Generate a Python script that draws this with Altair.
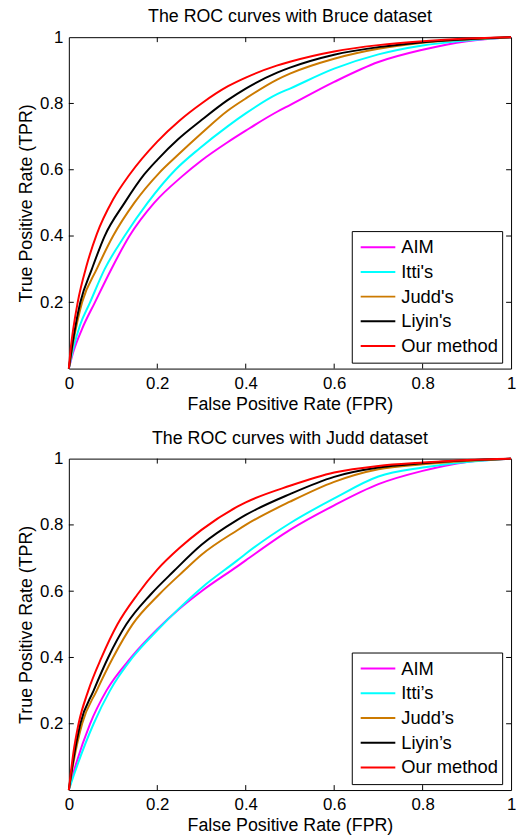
import altair as alt
import pandas as pd

FONT = "Liberation Sans"
COLORS = ["#ff00ff", "#00ffff", "#cc7a00", "#000000", "#ff0000"]
TOP_NAMES = ["AIM", "Itti's", "Judd's", "Liyin's", "Our method"]
BOT_NAMES = ["AIM", "Itti\u2019s", "Judd\u2019s", "Liyin\u2019s", "Our method"]
AXIS_TICKS = [0, 0.2, 0.4, 0.6, 0.8, 1]
Y_LABEL_TICKS = [0.2, 0.4, 0.6, 0.8, 1]
INNER_TICKS = [0.2, 0.4, 0.6, 0.8]

# ---- Bruce dataset ----
BRUCE_AIM_X = [0, 0.01, 0.03, 0.059, 0.096, 0.137, 0.193, 0.256, 0.3, 0.359, 0.4, 0.471, 0.5, 0.6, 0.7, 0.8, 0.9, 1.0]
BRUCE_AIM_Y = [0, 0.05, 0.12, 0.2, 0.3, 0.4, 0.5, 0.58, 0.628, 0.683, 0.718, 0.775, 0.795, 0.865, 0.925, 0.962, 0.988, 1.0]
BRUCE_ITTI_X = [0, 0.01, 0.025, 0.048, 0.081, 0.126, 0.178, 0.241, 0.296, 0.359, 0.4, 0.471, 0.5, 0.6, 0.7, 0.8, 0.9, 1.0]
BRUCE_ITTI_Y = [0, 0.06, 0.13, 0.2, 0.3, 0.4, 0.5, 0.6, 0.665, 0.731, 0.77, 0.828, 0.845, 0.905, 0.948, 0.975, 0.99, 1.0]
BRUCE_JUDD_X = [0, 0.01, 0.03, 0.063, 0.1, 0.148, 0.204, 0.247, 0.3, 0.359, 0.4, 0.471, 0.5, 0.6, 0.7, 0.8, 0.9, 1.0]
BRUCE_JUDD_Y = [0, 0.08, 0.2, 0.3, 0.4, 0.5, 0.59, 0.645, 0.71, 0.778, 0.815, 0.872, 0.89, 0.935, 0.965, 0.983, 0.993, 1.0]
BRUCE_LIYIN_X = [0, 0.01, 0.026, 0.052, 0.081, 0.126, 0.17, 0.2, 0.247, 0.3, 0.359, 0.4, 0.471, 0.5, 0.6, 0.7, 0.8, 0.9, 1.0]
BRUCE_LIYIN_Y = [0, 0.09, 0.2, 0.3, 0.4, 0.5, 0.585, 0.63, 0.692, 0.75, 0.81, 0.845, 0.893, 0.908, 0.947, 0.97, 0.985, 0.994, 1.0]
BRUCE_OURS_X = [0, 0.005, 0.01, 0.02, 0.04, 0.063, 0.1, 0.137, 0.2, 0.25, 0.3, 0.36, 0.4, 0.47, 0.5, 0.6, 0.7, 0.8, 0.9, 1.0]
BRUCE_OURS_Y = [0, 0.07, 0.12, 0.20, 0.31, 0.405, 0.51, 0.585, 0.685, 0.748, 0.80, 0.852, 0.878, 0.914, 0.926, 0.957, 0.976, 0.988, 0.996, 1.0]

# ---- Judd dataset ----
JUDD_AIM_X = [0, 0.01, 0.048, 0.085, 0.141, 0.2, 0.25, 0.3, 0.381, 0.4, 0.5, 0.6, 0.7, 0.8, 0.9, 1.0]
JUDD_AIM_Y = [0, 0.05, 0.2, 0.3, 0.4, 0.485, 0.547, 0.6, 0.675, 0.693, 0.785, 0.859, 0.923, 0.963, 0.99, 1.0]
JUDD_ITTI_X = [0, 0.01, 0.056, 0.093, 0.144, 0.2, 0.25, 0.3, 0.381, 0.4, 0.5, 0.6, 0.7, 0.8, 0.9, 1.0]
JUDD_ITTI_Y = [0, 0.04, 0.2, 0.3, 0.4, 0.482, 0.549, 0.61, 0.693, 0.713, 0.805, 0.88, 0.946, 0.973, 0.99, 1.0]
JUDD_JUDD_X = [0, 0.01, 0.03, 0.063, 0.1, 0.144, 0.204, 0.259, 0.3, 0.381, 0.4, 0.5, 0.6, 0.7, 0.8, 0.9, 1.0]
JUDD_JUDD_Y = [0, 0.08, 0.2, 0.3, 0.4, 0.5, 0.59, 0.66, 0.71, 0.784, 0.80, 0.87, 0.93, 0.968, 0.983, 0.993, 1.0]
JUDD_LIYIN_X = [0, 0.01, 0.026, 0.056, 0.089, 0.13, 0.185, 0.237, 0.3, 0.381, 0.4, 0.5, 0.6, 0.7, 0.8, 0.9, 1.0]
JUDD_LIYIN_Y = [0, 0.09, 0.2, 0.3, 0.4, 0.5, 0.59, 0.66, 0.74, 0.815, 0.83, 0.893, 0.945, 0.973, 0.986, 0.995, 1.0]
JUDD_OURS_X = [0, 0.01, 0.022, 0.044, 0.074, 0.11, 0.155, 0.2, 0.25, 0.3, 0.381, 0.4, 0.5, 0.6, 0.7, 0.8, 0.9, 1.0]
JUDD_OURS_Y = [0, 0.11, 0.2, 0.3, 0.4, 0.5, 0.59, 0.665, 0.73, 0.785, 0.855, 0.868, 0.918, 0.958, 0.978, 0.988, 0.996, 1.0]

W, H = 447, 335
TICK_LEN = 5


def panel(title, names, series):
    rows = []
    for name, (xs, ys) in zip(names, series):
        for x, y in zip(xs, ys):
            rows.append({"method": name, "fpr": x, "tpr": y})
    df = pd.DataFrame(rows)
    sc = alt.Scale(domain=[0, 1], nice=False, zero=False)

    tdf = pd.DataFrame({"v": INNER_TICKS})
    tb = alt.Chart(tdf).mark_rule(color="black", strokeWidth=1).encode(
        x=alt.X("v:Q", scale=sc), y=alt.value(H), y2=alt.value(H - TICK_LEN))
    tt = alt.Chart(tdf).mark_rule(color="black", strokeWidth=1).encode(
        x=alt.X("v:Q", scale=sc), y=alt.value(0), y2=alt.value(TICK_LEN))
    tl = alt.Chart(tdf).mark_rule(color="black", strokeWidth=1).encode(
        y=alt.Y("v:Q", scale=sc), x=alt.value(0), x2=alt.value(TICK_LEN))
    tr = alt.Chart(tdf).mark_rule(color="black", strokeWidth=1).encode(
        y=alt.Y("v:Q", scale=sc), x=alt.value(W), x2=alt.value(W - TICK_LEN))

    lines = alt.Chart(df).mark_line(strokeWidth=2, interpolate="monotone").encode(
        x=alt.X("fpr:Q", scale=sc, title="False Positive Rate (FPR)",
                axis=alt.Axis(values=AXIS_TICKS, format="~g", ticks=False, domain=False,
                              grid=False, labelFontSize=17, labelPadding=7,
                              titleFontSize=18, titlePadding=4, labelFlush=False)),
        y=alt.Y("tpr:Q", scale=sc, title="True Positive Rate (TPR)",
                axis=alt.Axis(values=Y_LABEL_TICKS, format="~g", ticks=False, domain=False,
                              grid=False, labelFontSize=17, labelPadding=6,
                              titleFontSize=18, titlePadding=4, labelFlush=False)),
        color=alt.Color("method:N", title=None, sort=names,
                        scale=alt.Scale(domain=names, range=COLORS),
                        legend=alt.Legend(orient="none", legendX=286, legendY=196,
                                          symbolType="stroke", symbolSize=1225,
                                          symbolStrokeWidth=2, symbolOffset=4,
                                          labelFontSize=18.5, labelFont=FONT, labelOffset=5,
                                          clipHeight=24.5, rowPadding=0,
                                          padding=4, strokeColor="black", fillColor="white")),
    )

    return alt.layer(lines, tb, tt, tl, tr).properties(
        width=W, height=H,
        title=alt.TitleParams(title, fontSize=18, fontWeight="normal", font=FONT,
                              baseline="alphabetic", offset=-12),
    )


top = panel("The ROC curves with Bruce dataset", TOP_NAMES, [
    (BRUCE_AIM_X, BRUCE_AIM_Y), (BRUCE_ITTI_X, BRUCE_ITTI_Y), (BRUCE_JUDD_X, BRUCE_JUDD_Y),
    (BRUCE_LIYIN_X, BRUCE_LIYIN_Y), (BRUCE_OURS_X, BRUCE_OURS_Y)])
bottom = panel("The ROC curves with Judd dataset", BOT_NAMES, [
    (JUDD_AIM_X, JUDD_AIM_Y), (JUDD_ITTI_X, JUDD_ITTI_Y), (JUDD_JUDD_X, JUDD_JUDD_Y),
    (JUDD_LIYIN_X, JUDD_LIYIN_Y), (JUDD_OURS_X, JUDD_OURS_Y)])

chart = alt.vconcat(top, bottom, spacing=91, bounds="flush").resolve_scale(
    color="independent"
).properties(
    padding={"left": 8.5, "top": -5, "right": 0, "bottom": 0}
).configure_view(
    stroke="black", strokeWidth=1
).configure_axis(
    labelFont=FONT, titleFont=FONT, labelColor="black", titleColor="black",
    titleFontWeight="normal"
)

chart.save("out.html", embed_options={"renderer": "svg", "actions": False})
